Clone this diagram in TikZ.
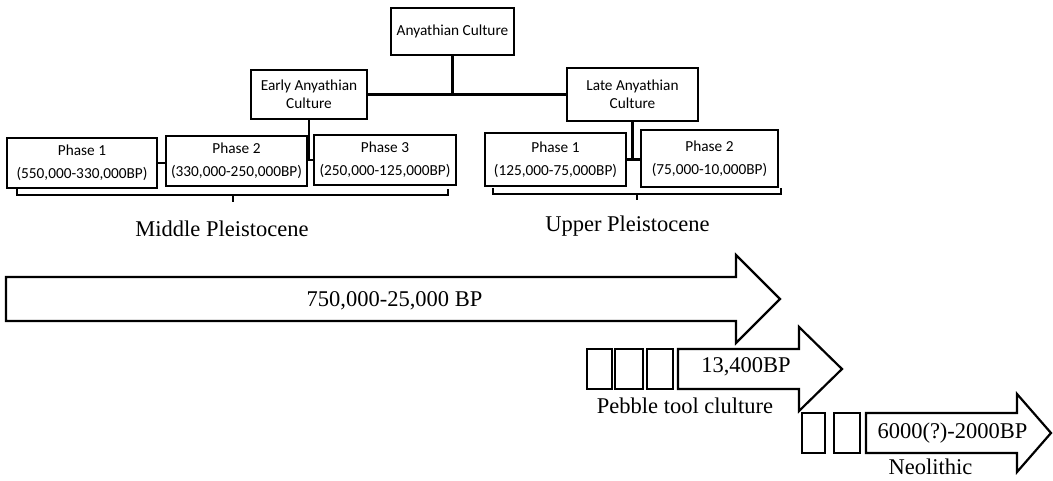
\documentclass[tikz,border=0pt]{standalone}
\usepackage{fontspec}
\setmainfont{Liberation Serif}
\newfontfamily\calibri{Carlito}
\tikzset{
  box/.style={draw,line width=2.6pt,inner sep=0pt,align=center,font=\calibri\fontsize{15.3}{18}\selectfont},
  link/.style={line width=2.6pt},
  brace/.style={line width=1.5pt},
  era/.style={font=\fontsize{22.5}{26}\selectfont,anchor=base,inner sep=0pt},
  arr/.style={line width=2.2pt,line join=miter},
}
\begin{document}
\begin{tikzpicture}[x=1pt,y=-1pt]
	\useasboundingbox (0,0) rectangle (1053,481);
	\node[box,minimum width=123pt,minimum height=47pt] (top) at (452.5,31.5) {Anyathian Culture};
	\node[box,minimum width=116pt,minimum height=49pt] (early) at (309,94.5) {Early Anyathian\\Culture};
	\node[box,minimum width=131pt,minimum height=53pt] (late) at (632.5,94.5) {Late Anyathian\\Culture};
	\node[box,minimum width=150pt,minimum height=50pt] (p1) at (82,163) {Phase 1\\[5pt](550,000-330,000BP)};
	\node[box,minimum width=141pt,minimum height=50pt] (p2) at (236.5,161) {Phase 2\\[5pt](330,000-250,000BP)};
	\node[box,minimum width=142pt,minimum height=50pt] (p3) at (385,160) {Phase 3\\[5pt](250,000-125,000BP)};
	\node[box,minimum width=141pt,minimum height=53pt] (l1) at (555.5,159.5) {Phase 1\\[5pt](125,000-75,000BP)};
	\node[box,minimum width=137pt,minimum height=57pt] (l2) at (709.5,158.5) {Phase 2\\[5pt](75,000-10,000BP)};
	\draw[link] (top.south) -- (top.south |- early.east);
	\draw[link] (early.east) -- (late.west);
	\draw[link] (early.south) |- (p3.west);
	\draw[link] (p1.east) -- (p2.west |- p1.east);
	\draw[link] (late.south) -- (late.south |- l1.east);
	\draw[link] (l1.east) -- (l2.west |- l1.east);
	\draw[brace] (17,189) |- (448,195) -- (448,189);
	\draw[brace] (233,195) -- (233,202);
	\node[era] (middle) at (222,237) {Middle Pleistocene};
	\draw[brace] (493,188) |- (781,194) -- (781,188);
	\draw[brace] (637,194) -- (637,200);
	\node[era] (upper) at (627.5,232) {Upper Pleistocene};
	\draw[arr] (6,277) -- (736,277) -- (736,255) -- (780,299) -- (736,343) -- (736,321) -- (6,321) -- cycle;
	\node[era] (old) at (394.5,307) {750,000-25,000 BP};
	\foreach \a/\b in {587/612,615/643,647/673}
		\draw[arr] (\a,349) rectangle (\b,389);
	\draw[arr] (678,349) -- (799,349) -- (799,327) -- (842,369) -- (799,411) -- (799,389) -- (678,389) -- cycle;
	\node[era] (pebbledate) at (746,372) {13,400BP};
	\node[era] (pebble) at (685,413) {Pebble tool clulture};
	\foreach \a/\b in {802/825,834/860}
		\draw[arr] (\a,413) rectangle (\b,453);
	\draw[arr] (866,413) -- (1017,413) -- (1017,394) -- (1051,433) -- (1017,472) -- (1017,453) -- (866,453) -- cycle;
	\node[era] (neodate) at (952.5,438) {6000(?)-2000BP};
	\node[era] (neo) at (930.5,474) {Neolithic};
\end{tikzpicture}
\end{document}
